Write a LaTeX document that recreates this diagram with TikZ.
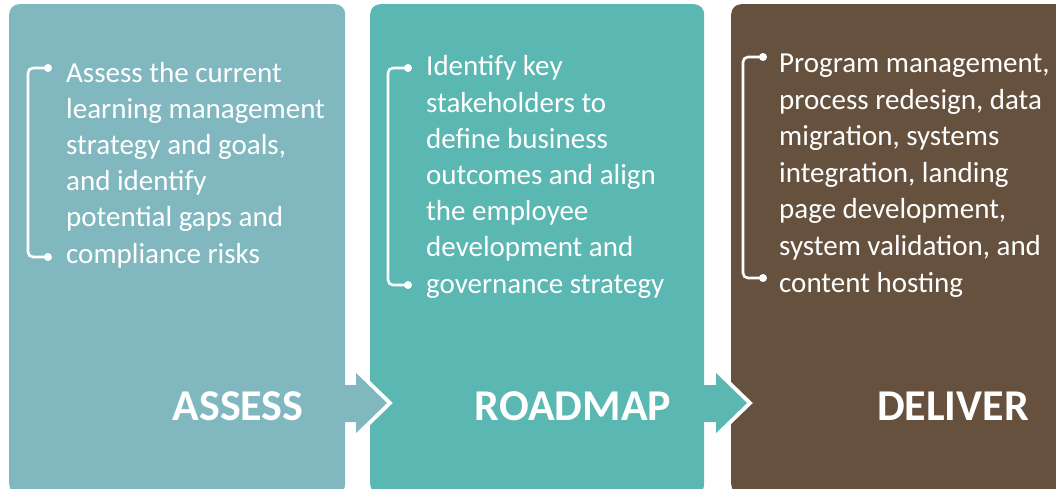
\documentclass[tikz,border=0pt]{standalone}
\usepackage{fontspec}
\setmainfont{Carlito}
\definecolor{cassess}{RGB}{129,184,192}
\definecolor{croad}{RGB}{91,183,178}
\definecolor{cdeliver}{RGB}{101,81,62}
\tikzset{
  stagebox/.style={rounded corners=10pt, inner sep=0pt, anchor=north west, draw=none},
  bodytext/.style={text=white, inner sep=0pt, anchor=base west, align=left,
    font=\fontsize{29}{36.2}\selectfont},
  titletext/.style={text=white, inner sep=0pt, anchor=base,
    font=\fontsize{44}{50}\selectfont\bfseries},
  bracketline/.style={draw=white, line width=2.6pt, rounded corners=5pt},
  bracketdot/.style={circle, fill=white, inner sep=0pt, minimum size=8pt},
  headoutline/.style={draw=white, line width=8pt, miter limit=10}
}
\begin{document}
\begin{tikzpicture}[x=1pt,y=-1pt]
\useasboundingbox (0,0) rectangle (1056,488);
\clip (0,0) rectangle (1056,488);
% stage boxes
\node[stagebox, fill=cassess, minimum width=336pt, minimum height=490pt] (b1) at (9,4) {};
\node[stagebox, fill=croad, minimum width=334pt, minimum height=490pt] (b2) at (370,4) {};
\node[stagebox, fill=cdeliver, minimum width=360pt, minimum height=490pt] (b3) at (731,4) {};
% arrows between stages
\draw[headoutline] (356,373) -- (387,403) -- (356,433);
\fill[cassess] (340,385) -- (356,385) -- (356,373) -- (387,403) -- (356,433) -- (356,422) -- (340,422) -- cycle;
\draw[headoutline] (716,373) -- (747,403) -- (716,433);
\fill[croad] (700,385) -- (716,385) -- (716,373) -- (747,403) -- (716,433) -- (716,422) -- (700,422) -- cycle;
% texts (anchor = baseline of the last line)
\node[bodytext] (t1) at (66,263) {Assess the current\\learning management\\strategy and goals,\\and identify\\potential gaps and\\compliance risks};
\node[bodytext] (t2) at (426,293) {Identify key\\stakeholders to\\define business\\outcomes and align\\the employee\\development and\\governance strategy};
\node[bodytext, font=\fontsize{29}{36.6}\selectfont] (t3) at (779,292) {Program management,\\process redesign, data\\migration, systems\\integration, landing\\page development,\\system validation, and\\content hosting};
% titles
\node[titletext] (h1) at (238,420) {ASSESS};
\node[titletext] (h2) at (573,420) {ROADMAP};
\node[titletext] (h3) at (953,420) {DELIVER};
% brackets
\node[bracketdot] (d1a) at (48,68) {};
\node[bracketdot] (d1b) at (48,257) {};
\draw[bracketline] (d1a.center) -- (28,68) -- (28,257) -- (d1b.center);
\node[bracketdot] (d2a) at (408,68) {};
\node[bracketdot] (d2b) at (408,285) {};
\draw[bracketline] (d2a.center) -- (388,68) -- (388,285) -- (d2b.center);
\node[bracketdot] (d3a) at (763,57) {};
\node[bracketdot] (d3b) at (763,278) {};
\draw[bracketline] (d3a.center) -- (743,57) -- (743,278) -- (d3b.center);
\end{tikzpicture}
\end{document}
